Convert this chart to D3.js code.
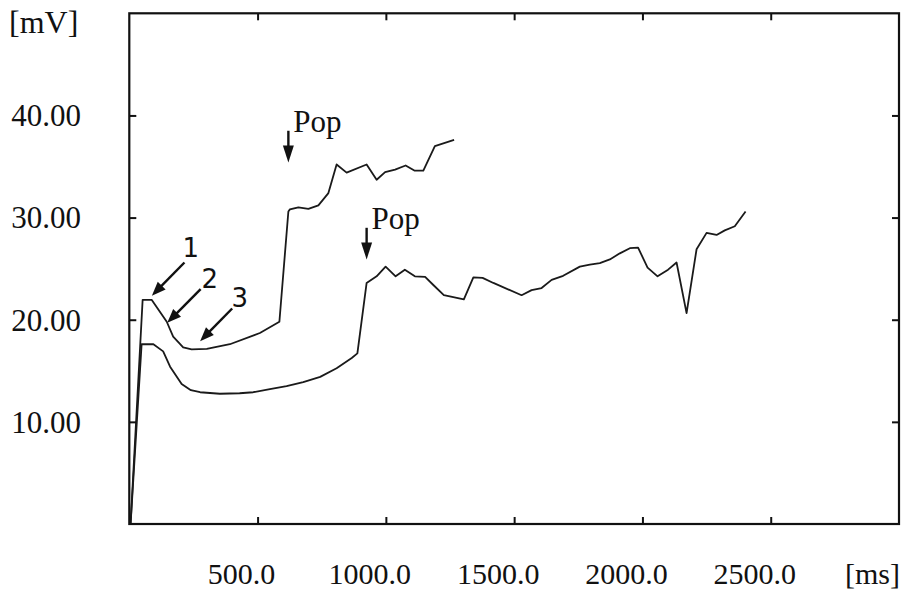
<!DOCTYPE html>
<html>
<head>
<meta charset="utf-8">
<script src="https://cdn.jsdelivr.net/npm/d3@7"></script>
<style>
  html, body { margin: 0; padding: 0; background: #fff; }
  svg { display: block; }
</style>
</head>
<body>
<svg id="chart" width="903" height="591"></svg>
<script>
// ---- data ----
const xTicks = [500, 1000, 1500, 2000, 2500];
const xTickLabels = ["500.0", "1000.0", "1500.0", "2000.0", "2500.0"];
const yTicks = [10, 20, 30, 40];
const yTickLabels = ["10.00", "20.00", "30.00", "40.00"];
const xUnit = "[ms]";
const yUnit = "[mV]";

const upperMs = [5, 52, 87, 146, 171, 210, 243, 302, 392, 509, 585, 620, 626, 659, 698, 737, 776, 808, 847, 925, 964, 997, 1036, 1077, 1111, 1146, 1191, 1266];
const upperMv = [0, 21.95, 21.95, 19.8, 18.35, 17.3, 17.1, 17.15, 17.6, 18.7, 19.8, 30.6, 30.8, 31.0, 30.85, 31.2, 32.4, 35.2, 34.4, 35.2, 33.7, 34.45, 34.7, 35.1, 34.6, 34.6, 37.0, 37.6];

const lowerMs = [5, 48, 94, 132, 159, 204, 240, 276, 353, 430, 483, 548, 613, 678, 744, 808, 867, 889, 925, 964, 999, 1038, 1074, 1113, 1153, 1185, 1226, 1304, 1341, 1377, 1419, 1529, 1568, 1607, 1646, 1691, 1756, 1795, 1834, 1873, 1912, 1951, 1983, 2020, 2059, 2100, 2133, 2172, 2211, 2250, 2289, 2321, 2360, 2402];
const lowerMv = [0, 17.6, 17.6, 16.9, 15.4, 13.7, 13.1, 12.9, 12.75, 12.8, 12.9, 13.2, 13.5, 13.9, 14.4, 15.25, 16.25, 16.7, 23.6, 24.25, 25.2, 24.25, 24.9, 24.25, 24.2, 23.4, 22.4, 22.0, 24.15, 24.1, 23.6, 22.4, 22.9, 23.1, 23.9, 24.3, 25.2, 25.4, 25.55, 25.9, 26.5, 27.0, 27.06, 25.1, 24.25, 24.9, 25.6, 20.65, 26.9, 28.5, 28.3, 28.75, 29.15, 30.6];

// annotations (data units)
const numLabels = ["1", "2", "3"];
const numLabelMs = [240, 314, 431];
const numLabelMv = [26.1, 23.1, 21.2];
const numArrowFromMs = [215, 278, 401];
const numArrowFromMv = [25.6, 23.0, 21.1];
const numArrowToMs = [88, 148, 276];
const numArrowToMv = [22.35, 19.7, 17.9];

const popLabels = ["Pop", "Pop"];
const popMs = [620, 925];
const popArrowTopMv = [38.5, 29.0];
const popArrowTipMv = [35.4, 25.9];

// ---- layout ----
const svg = d3.select("#chart");
const mLeft = 129.3, mRight = 899, mTop = 13.3, mBottom = 524;
const x = d3.scaleLinear().domain([0, 3000]).range([mLeft, mRight]);
const y = d3.scaleLinear().domain([0, 50]).range([mBottom, mTop]);
const serif = "'Liberation Serif', 'DejaVu Serif', serif";
const ink = "#111";

// curves
const line = d3.line().x(d => x(d[0])).y(d => y(d[1]));
const upper = upperMs.map((m, i) => [m, upperMv[i]]);
const lower = lowerMs.map((m, i) => [m, lowerMv[i]]);
[upper, lower].forEach(s => {
  svg.append("path").datum(s).attr("d", line)
    .attr("fill", "none").attr("stroke", "#1a1a1a").attr("stroke-width", 1.8)
    .attr("stroke-linejoin", "round");
});

// axes (ticks inward, on all four sides)
const tl = 7;
svg.append("g").attr("transform", `translate(0,${mBottom})`)
  .call(d3.axisTop(x).tickValues(xTicks).tickSize(tl).tickFormat(""))
  .call(g => g.select(".domain").remove());
svg.append("g").attr("transform", `translate(0,${mTop})`)
  .call(d3.axisBottom(x).tickValues(xTicks).tickSize(tl).tickFormat(""))
  .call(g => g.select(".domain").remove());
svg.append("g").attr("transform", `translate(${mLeft},0)`)
  .call(d3.axisRight(y).tickValues(yTicks).tickSize(tl).tickFormat(""))
  .call(g => g.select(".domain").remove());
svg.append("g").attr("transform", `translate(${mRight},0)`)
  .call(d3.axisLeft(y).tickValues(yTicks).tickSize(tl).tickFormat(""))
  .call(g => g.select(".domain").remove());
svg.selectAll(".tick line").attr("stroke", ink).attr("stroke-width", 2);

// frame
svg.append("rect").attr("x", mLeft).attr("y", mTop)
  .attr("width", mRight - mLeft).attr("height", mBottom - mTop)
  .attr("fill", "none").attr("stroke", ink).attr("stroke-width", 2.2);

// tick labels
svg.append("g").selectAll("text").data(xTicks).join("text")
  .attr("x", d => x(d) - 16).attr("y", 584)
  .attr("text-anchor", "middle")
  .attr("font-family", serif).attr("font-size", 30).attr("fill", ink)
  .text((d, i) => xTickLabels[i]);
svg.append("g").selectAll("text").data(yTicks).join("text")
  .attr("x", 81).attr("y", d => y(d)).attr("dy", "0.35em")
  .attr("text-anchor", "end")
  .attr("font-family", serif).attr("font-size", 31).attr("fill", ink)
  .text((d, i) => yTickLabels[i]);

svg.append("text").attr("x", 900).attr("y", 584).attr("text-anchor", "end")
  .attr("font-family", serif).attr("font-size", 30).attr("fill", ink).text(xUnit);
svg.append("text").attr("x", 9).attr("y", 33)
  .attr("font-family", serif).attr("font-size", 32).attr("fill", ink).text(yUnit);

// arrow helper
function arrow(x1, y1, x2, y2, headLen, headW) {
  const dx = x2 - x1, dy = y2 - y1, L = Math.hypot(dx, dy);
  const ux = dx / L, uy = dy / L;
  const bx = x2 - ux * headLen, by = y2 - uy * headLen;
  svg.append("line").attr("x1", x1).attr("y1", y1).attr("x2", bx + ux).attr("y2", by + uy)
    .attr("stroke", ink).attr("stroke-width", 2.4);
  const px = -uy * headW / 2, py = ux * headW / 2;
  svg.append("path")
    .attr("d", `M${x2},${y2}L${bx + px},${by + py}L${bx - px},${by - py}Z`)
    .attr("fill", ink);
}

numLabels.forEach((t, i) => {
  arrow(x(numArrowFromMs[i]), y(numArrowFromMv[i]), x(numArrowToMs[i]), y(numArrowToMv[i]), 14, 11);
  svg.append("text").attr("x", x(numLabelMs[i])).attr("y", y(numLabelMv[i]))
    .attr("text-anchor", "middle")
    .attr("font-family", "'DejaVu Sans', sans-serif").attr("font-size", 26).attr("fill", ink)
    .text(t);
});

popLabels.forEach((t, i) => {
  arrow(x(popMs[i]), y(popArrowTopMv[i]), x(popMs[i]), y(popArrowTipMv[i]), 17, 11);
  svg.append("text").attr("x", x(popMs[i]) + 5).attr("y", y(popArrowTopMv[i]) + 1)
    .attr("font-family", serif).attr("font-size", 31).attr("fill", ink)
    .text(t);
});
</script>
</body>
</html>
